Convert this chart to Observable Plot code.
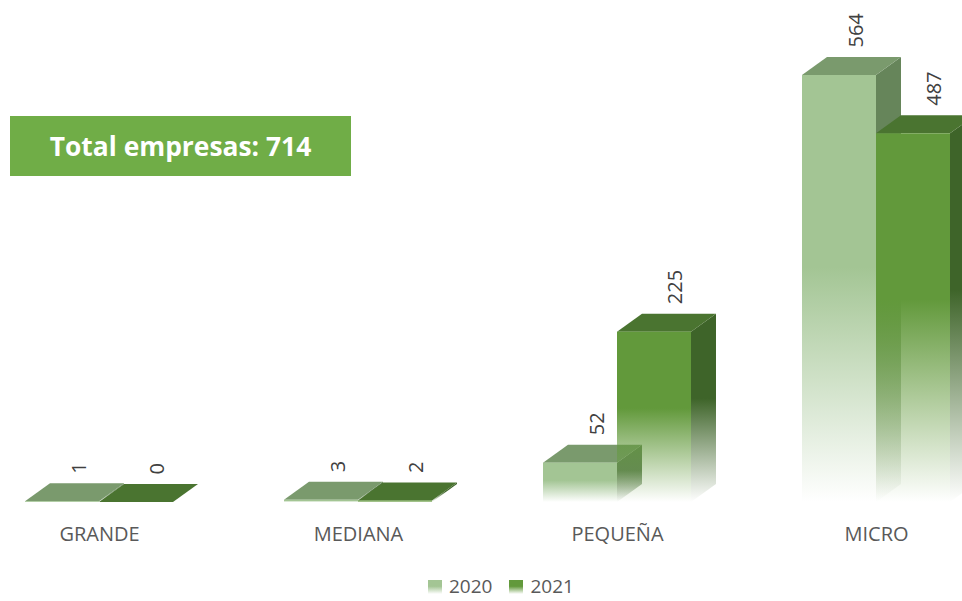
<!DOCTYPE html>
<html><head><meta charset="utf-8">
<script src="https://cdn.jsdelivr.net/npm/d3@7"></script>
<script src="https://cdn.jsdelivr.net/npm/@observablehq/plot@0.6"></script>
<style>
body{margin:0;background:#fff;font-family:"Open Sans",sans-serif;}
#wrap{position:relative;width:962px;height:601px;overflow:hidden;}
#total{position:absolute;left:10px;top:116px;width:341px;height:60px;background:#70ad47;color:#fff;font-weight:700;font-size:26.4px;display:flex;align-items:center;justify-content:center;}
#legend{position:absolute;top:577px;left:428px;display:flex;align-items:center;font-size:19px;line-height:19px;color:#595959;}
#legend .sw{width:14px;height:14px;margin-right:7px;}
#legend .it{display:flex;align-items:center;margin-right:17px;}
</style></head>
<body><div id="wrap"><div id="chart"></div><div id="total"></div><div id="legend"></div></div>
<script>
const categories = ["GRANDE", "MEDIANA", "PEQUEÑA", "MICRO"];
const series = ["2020", "2021"];
const values2020 = [1, 3, 52, 564];
const values2021 = [0, 2, 225, 487];
const totalLabel = "Total empresas: 714";

const frontColors = {"2020": "#a3c594", "2021": "#62993b"};
const topColors = {"2020": "#7a9a6d", "2021": "#4a7430"};
const sideColors = {"2020": "#66855a", "2021": "#3e6429"};

const rows = [];
categories.forEach((c, i) => {
  rows.push({cat: c, series: "2020", value: values2020[i]});
  rows.push({cat: c, series: "2021", value: values2021[i]});
});

const depthDx = 25, depthDy = -18;

function bars3d(index, scales) {
  const {x, y} = scales;
  const step = x(categories[1]) - x(categories[0]);
  const w = step * 0.2857;
  const g = d3.create("svg:g");
  const defs = g.append("defs");
  for (const s of series) {
    for (const [kind, col] of [["front", frontColors[s]], ["side", sideColors[s]]]) {
      const lg = defs.append("linearGradient").attr("id", `g-${kind}-${s}`)
        .attr("x1", 0).attr("y1", 0).attr("x2", 0).attr("y2", 1);
      lg.append("stop").attr("offset", 0).attr("stop-color", col).attr("stop-opacity", 1);
      lg.append("stop").attr("offset", 0.45).attr("stop-color", col).attr("stop-opacity", 1);
      lg.append("stop").attr("offset", 1).attr("stop-color", col).attr("stop-opacity", 0);
    }
  }
  for (const r of rows) {
    const cx = x(r.cat);
    const x0 = r.series === "2020" ? cx - w : cx;
    const x1 = x0 + w;
    const yt = y(r.value), yb = y(0);
    g.append("path")
      .attr("d", `M${x1},${yt}L${x1 + depthDx},${yt + depthDy}L${x1 + depthDx},${yb + depthDy}L${x1},${yb}Z`)
      .attr("fill", `url(#g-side-${r.series})`);
    g.append("path")
      .attr("d", `M${x0},${yt}L${x1},${yt}L${x1 + depthDx},${yt + depthDy}L${x0 + depthDx},${yt + depthDy}Z`)
      .attr("fill", topColors[r.series]);
    if (yb - yt > 0) g.append("rect")
      .attr("x", x0).attr("y", yt).attr("width", w).attr("height", Math.max(yb - yt, 0.8))
      .attr("fill", `url(#g-front-${r.series})`);
  }
  return g.node();
}

const chart = Plot.plot({
  width: 962,
  height: 565,
  margin: 0,
  style: {fontFamily: "Open Sans, sans-serif", background: "#fff"},
  x: {type: "point", domain: categories, range: [99, 876], padding: 0, axis: null},
  y: {domain: [0, 564], range: [502, 75], axis: null},
  marks: [
    bars3d,
    Plot.text(rows.filter(d => d.series === "2020"), {
      x: "cat", y: "value", text: d => String(d.value), rotate: -90,
      textAnchor: "start", lineAnchor: "middle", dx: -20, dy: -28,
      fontSize: 20, fill: "#404040"
    }),
    Plot.text(rows.filter(d => d.series === "2021"), {
      x: "cat", y: "value", text: d => String(d.value), rotate: -90,
      textAnchor: "start", lineAnchor: "middle", dx: 58, dy: -28,
      fontSize: 20, fill: "#404040"
    }),
    Plot.text(categories, {x: d => d, y: 0, text: d => d, dy: 32, fontSize: 20, fill: "#595959"})
  ]
});
document.getElementById("chart").appendChild(chart);
document.getElementById("total").textContent = totalLabel;

const legend = document.getElementById("legend");
for (const s of series) {
  const it = document.createElement("div");
  it.className = "it";
  const sw = document.createElement("div");
  sw.className = "sw";
  sw.style.background = `linear-gradient(${frontColors[s]} 45%, rgba(255,255,255,0) 100%)`;
  const t = document.createElement("span");
  t.textContent = s;
  it.appendChild(sw); it.appendChild(t);
  legend.appendChild(it);
}
</script></body></html>
